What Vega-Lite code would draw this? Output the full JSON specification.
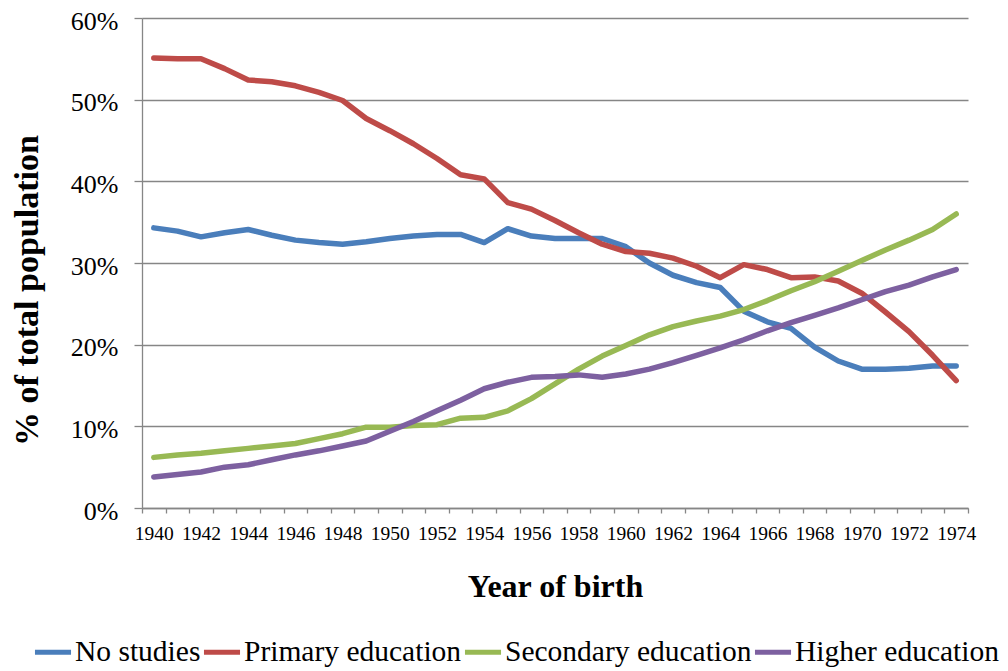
{
"$schema": "https://vega.github.io/schema/vega-lite/v6.json",
"width": 826, "height": 490,
"autosize": {"type": "none"},
"padding": {"left": 142, "top": 18, "right": 40, "bottom": 163},
"background": "white",
"config": {"font": "Liberation Serif", "view": {"stroke": null}, "legend": {"labelFont": "Liberation Serif"}},
"data": {"values": [
{"year":1940,"series":"No studies","value":34.3},{"year":1941,"series":"No studies","value":33.9},{"year":1942,"series":"No studies","value":33.2},{"year":1943,"series":"No studies","value":33.7},{"year":1944,"series":"No studies","value":34.1},{"year":1945,"series":"No studies","value":33.4},{"year":1946,"series":"No studies","value":32.8},{"year":1947,"series":"No studies","value":32.5},{"year":1948,"series":"No studies","value":32.3},{"year":1949,"series":"No studies","value":32.6},{"year":1950,"series":"No studies","value":33.0},{"year":1951,"series":"No studies","value":33.3},{"year":1952,"series":"No studies","value":33.5},{"year":1953,"series":"No studies","value":33.5},{"year":1954,"series":"No studies","value":32.5},{"year":1955,"series":"No studies","value":34.2},{"year":1956,"series":"No studies","value":33.3},{"year":1957,"series":"No studies","value":33.0},{"year":1958,"series":"No studies","value":33.0},{"year":1959,"series":"No studies","value":33.0},{"year":1960,"series":"No studies","value":32.0},{"year":1961,"series":"No studies","value":30.0},{"year":1962,"series":"No studies","value":28.5},{"year":1963,"series":"No studies","value":27.6},{"year":1964,"series":"No studies","value":27.0},{"year":1965,"series":"No studies","value":24.1},{"year":1966,"series":"No studies","value":22.8},{"year":1967,"series":"No studies","value":22.0},{"year":1968,"series":"No studies","value":19.7},{"year":1969,"series":"No studies","value":18.0},{"year":1970,"series":"No studies","value":17.0},{"year":1971,"series":"No studies","value":17.0},{"year":1972,"series":"No studies","value":17.1},{"year":1973,"series":"No studies","value":17.4},{"year":1974,"series":"No studies","value":17.4},
{"year":1940,"series":"Primary education","value":55.1},{"year":1941,"series":"Primary education","value":55.0},{"year":1942,"series":"Primary education","value":55.0},{"year":1943,"series":"Primary education","value":53.8},{"year":1944,"series":"Primary education","value":52.4},{"year":1945,"series":"Primary education","value":52.2},{"year":1946,"series":"Primary education","value":51.7},{"year":1947,"series":"Primary education","value":50.9},{"year":1948,"series":"Primary education","value":49.9},{"year":1949,"series":"Primary education","value":47.7},{"year":1950,"series":"Primary education","value":46.2},{"year":1951,"series":"Primary education","value":44.6},{"year":1952,"series":"Primary education","value":42.8},{"year":1953,"series":"Primary education","value":40.8},{"year":1954,"series":"Primary education","value":40.3},{"year":1955,"series":"Primary education","value":37.4},{"year":1956,"series":"Primary education","value":36.6},{"year":1957,"series":"Primary education","value":35.2},{"year":1958,"series":"Primary education","value":33.7},{"year":1959,"series":"Primary education","value":32.3},{"year":1960,"series":"Primary education","value":31.4},{"year":1961,"series":"Primary education","value":31.2},{"year":1962,"series":"Primary education","value":30.6},{"year":1963,"series":"Primary education","value":29.6},{"year":1964,"series":"Primary education","value":28.2},{"year":1965,"series":"Primary education","value":29.8},{"year":1966,"series":"Primary education","value":29.2},{"year":1967,"series":"Primary education","value":28.2},{"year":1968,"series":"Primary education","value":28.3},{"year":1969,"series":"Primary education","value":27.8},{"year":1970,"series":"Primary education","value":26.3},{"year":1971,"series":"Primary education","value":24.0},{"year":1972,"series":"Primary education","value":21.6},{"year":1973,"series":"Primary education","value":18.7},{"year":1974,"series":"Primary education","value":15.6},
{"year":1940,"series":"Secondary education","value":6.2},{"year":1941,"series":"Secondary education","value":6.5},{"year":1942,"series":"Secondary education","value":6.7},{"year":1943,"series":"Secondary education","value":7.0},{"year":1944,"series":"Secondary education","value":7.3},{"year":1945,"series":"Secondary education","value":7.6},{"year":1946,"series":"Secondary education","value":7.9},{"year":1947,"series":"Secondary education","value":8.5},{"year":1948,"series":"Secondary education","value":9.1},{"year":1949,"series":"Secondary education","value":9.9},{"year":1950,"series":"Secondary education","value":9.9},{"year":1951,"series":"Secondary education","value":10.1},{"year":1952,"series":"Secondary education","value":10.2},{"year":1953,"series":"Secondary education","value":11.0},{"year":1954,"series":"Secondary education","value":11.1},{"year":1955,"series":"Secondary education","value":11.9},{"year":1956,"series":"Secondary education","value":13.4},{"year":1957,"series":"Secondary education","value":15.2},{"year":1958,"series":"Secondary education","value":17.0},{"year":1959,"series":"Secondary education","value":18.6},{"year":1960,"series":"Secondary education","value":19.9},{"year":1961,"series":"Secondary education","value":21.2},{"year":1962,"series":"Secondary education","value":22.2},{"year":1963,"series":"Secondary education","value":22.9},{"year":1964,"series":"Secondary education","value":23.5},{"year":1965,"series":"Secondary education","value":24.3},{"year":1966,"series":"Secondary education","value":25.4},{"year":1967,"series":"Secondary education","value":26.6},{"year":1968,"series":"Secondary education","value":27.7},{"year":1969,"series":"Secondary education","value":29.0},{"year":1970,"series":"Secondary education","value":30.3},{"year":1971,"series":"Secondary education","value":31.6},{"year":1972,"series":"Secondary education","value":32.8},{"year":1973,"series":"Secondary education","value":34.1},{"year":1974,"series":"Secondary education","value":36.0},
{"year":1940,"series":"Higher education","value":3.8},{"year":1941,"series":"Higher education","value":4.1},{"year":1942,"series":"Higher education","value":4.4},{"year":1943,"series":"Higher education","value":5.0},{"year":1944,"series":"Higher education","value":5.3},{"year":1945,"series":"Higher education","value":5.9},{"year":1946,"series":"Higher education","value":6.5},{"year":1947,"series":"Higher education","value":7.0},{"year":1948,"series":"Higher education","value":7.6},{"year":1949,"series":"Higher education","value":8.2},{"year":1950,"series":"Higher education","value":9.4},{"year":1951,"series":"Higher education","value":10.6},{"year":1952,"series":"Higher education","value":11.9},{"year":1953,"series":"Higher education","value":13.2},{"year":1954,"series":"Higher education","value":14.6},{"year":1955,"series":"Higher education","value":15.4},{"year":1956,"series":"Higher education","value":16.0},{"year":1957,"series":"Higher education","value":16.1},{"year":1958,"series":"Higher education","value":16.3},{"year":1959,"series":"Higher education","value":16.0},{"year":1960,"series":"Higher education","value":16.4},{"year":1961,"series":"Higher education","value":17.0},{"year":1962,"series":"Higher education","value":17.8},{"year":1963,"series":"Higher education","value":18.7},{"year":1964,"series":"Higher education","value":19.6},{"year":1965,"series":"Higher education","value":20.6},{"year":1966,"series":"Higher education","value":21.7},{"year":1967,"series":"Higher education","value":22.7},{"year":1968,"series":"Higher education","value":23.6},{"year":1969,"series":"Higher education","value":24.5},{"year":1970,"series":"Higher education","value":25.5},{"year":1971,"series":"Higher education","value":26.5},{"year":1972,"series":"Higher education","value":27.3},{"year":1973,"series":"Higher education","value":28.3},{"year":1974,"series":"Higher education","value":29.2}
]},
"mark": {"type": "line", "strokeWidth": 5.5, "strokeCap": "round", "strokeJoin": "round"},
"encoding": {
"x": {"field": "year", "type": "quantitative",
 "scale": {"domain": [1939.5, 1974.5], "nice": false, "zero": false},
 "axis": {"values": [1939.5,1940.5,1941.5,1942.5,1943.5,1944.5,1945.5,1946.5,1947.5,1948.5,1949.5,1950.5,1951.5,1952.5,1953.5,1954.5,1955.5,1956.5,1957.5,1958.5,1959.5,1960.5,1961.5,1962.5,1963.5,1964.5,1965.5,1966.5,1967.5,1968.5,1969.5,1970.5,1971.5,1972.5,1973.5,1974.5],
  "labelExpr": "(datum.value + 0.5) % 2 == 0 ? format(datum.value + 0.5, 'd') : ''",
  "labelFont": "Liberation Serif", "labelOffset": 11.8, "labelOverlap": false, "labelFlush": false, "labelFontSize": 19.5, "labelColor": "black", "labelBaseline": "top", "labelPadding": 11,
  "tickSize": 5, "tickColor": "#868686", "tickWidth": 1.3, "domainColor": "#868686", "domainWidth": 1.3, "grid": false,
  "title": "Year of birth", "titleFont": "Liberation Serif", "titleFontSize": 32, "titleFontWeight": "bold", "titleColor": "black", "titleY": 63, "titleBaseline": "top"}},
"y": {"field": "value", "type": "quantitative",
 "scale": {"domain": [0, 60], "nice": false},
 "axis": {"values": [0,10,20,30,40,50,60], "labelExpr": "datum.value + '%'", "labelFont": "Liberation Serif", "labelFontSize": 26, "labelColor": "black", "labelPadding": 16, "labelOffset": 3,
  "tickSize": 8, "tickColor": "#868686", "tickWidth": 1.3, "grid": true, "gridColor": "#868686", "gridWidth": 1.3, "domainColor": "#868686", "domainWidth": 1.3,
  "title": "% of total population", "titleFont": "Liberation Serif", "titleFontSize": 34, "titleFontWeight": "bold", "titleColor": "black", "titleX": -115, "titleY": 272, "titleBaseline": "middle", "titleAngle": -90}},
"color": {"field": "series", "type": "nominal",
 "scale": {"domain": ["No studies", "Primary education", "Secondary education", "Higher education"], "range": ["#4a7ebb", "#be4b48", "#98b954", "#7d60a0"]},
 "legend": {"orient": "none", "legendX": -110, "legendY": 613, "direction": "horizontal", "title": null, "symbolType": "stroke", "symbolSize": 1300, "symbolStrokeWidth": 5, "labelFont": "Liberation Serif", "labelFontSize": 29.5, "labelColor": "black", "labelOffset": 1, "columnPadding": -11, "padding": 0, "labelLimit": 400}}
}
}
